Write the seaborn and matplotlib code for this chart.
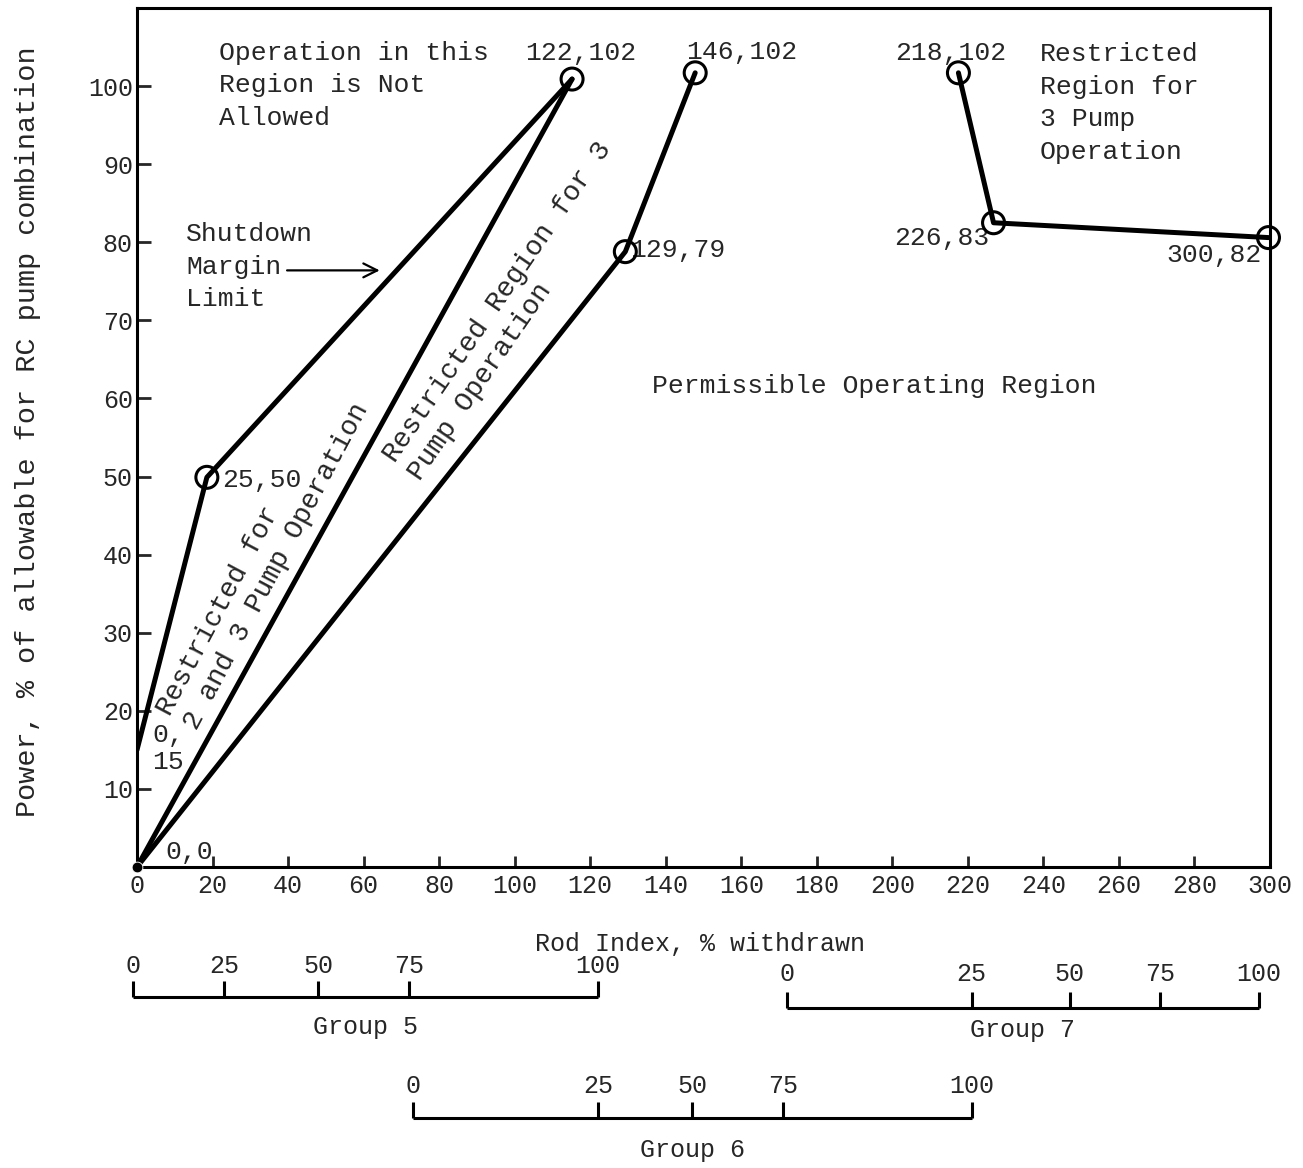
import pandas as pd
import matplotlib.pyplot as plt
import seaborn as sns

# data (rod index %, power %)
shutdown_rod = [0, 18.5, 115.2]
shutdown_power = [15, 49.9, 100.9]
restrict_rod = [0, 115.2]
restrict_power = [0, 100.9]
three_pump_rod = [0, 129.3, 147.8]
three_pump_power = [0, 78.8, 101.7]
right_rod = [217.5, 226.8, 299.6]
right_power = [101.7, 82.5, 80.6]

circle_rod = [18.5, 115.2, 129.3, 147.8, 217.5, 226.8, 299.6]
circle_power = [49.9, 100.9, 78.8, 101.7, 101.7, 82.5, 80.6]

x_ticks = list(range(0, 301, 20))
y_ticks = list(range(10, 101, 10))

# group scales under the axis (group % -> rod index)
group_labels = [0, 25, 50, 75, 100]
group5_rod = [-1, 23, 48, 72, 122]
group6_rod = [73, 122, 147, 171, 221]
group7_rod = [172, 221, 247, 271, 297]

sns.set_style('ticks')
plt.rcParams['font.family'] = ['Liberation Mono', 'DejaVu Sans Mono']

W, H = 1303, 1168
fig = plt.figure(figsize=(W / 100, H / 100), dpi=100)
L, R, T, B = 137, 1270, 8, 867
ax = fig.add_axes([L / W, 1 - B / H, (R - L) / W, (B - T) / H])

curves = pd.concat([
    pd.DataFrame({'rod': shutdown_rod, 'power': shutdown_power, 'curve': 'shutdown'}),
    pd.DataFrame({'rod': restrict_rod, 'power': restrict_power, 'curve': 'restrict'}),
    pd.DataFrame({'rod': three_pump_rod, 'power': three_pump_power, 'curve': 'three'}),
    pd.DataFrame({'rod': right_rod, 'power': right_power, 'curve': 'right'}),
])
sns.lineplot(data=curves, x='rod', y='power', units='curve', estimator=None,
             sort=False, color='black', linewidth=3.6, ax=ax)
sns.scatterplot(x=circle_rod, y=circle_power, s=250, marker='o',
                facecolors='none', edgecolor='black', linewidth=2.2, ax=ax,
                zorder=5, clip_on=False)
sns.scatterplot(x=[0], y=[0], s=60, color='black', ax=ax, zorder=5, clip_on=False)

ax.set_xlim(0, 300)
ax.set_ylim(0, 110)
ax.set_xticks(x_ticks)
ax.set_yticks(y_ticks)
ax.tick_params(axis='x', direction='in', length=8, width=2, labelsize=18, pad=5)
ax.tick_params(axis='y', direction='in', length=10, width=2, labelsize=18, pad=3)
for s in ax.spines.values():
    s.set_linewidth(2.2)
    s.set_color('black')

ax.set_xlabel('Rod Index, % withdrawn', fontsize=18)
ax.xaxis.set_label_coords(0.497, -0.076)
ax.set_ylabel('')
fig.text(28 / W, 1 - 432 / H, 'Power, % of allowable for RC pump combination',
         rotation=90, ha='center', va='center', fontsize=20.5)

fs = 19
ax.text(21.7, 105.8, 'Operation in this\nRegion is Not\nAllowed', fontsize=fs,
        va='top', ha='left', linespacing=1.45)
ax.text(239, 105.7, 'Restricted\nRegion for\n3 Pump\nOperation', fontsize=fs,
        va='top', ha='left', linespacing=1.47)
ax.text(13, 82.6, 'Shutdown\nMargin\nLimit', fontsize=fs, va='top', ha='left',
        linespacing=1.45)
ax.annotate('', xy=(65, 76.4), xytext=(39, 76.4),
            arrowprops=dict(arrowstyle='->', color='black', lw=1.6, mutation_scale=25))
ax.text(136.4, 61.6, 'Permissible Operating Region', fontsize=fs, va='center', ha='left')
ax.text(33.4, 39.4, 'Restricted for\n2 and 3 Pump Operation', fontsize=20,
        rotation=62, rotation_mode='anchor', ha='center', va='center',
        multialignment='left', linespacing=1.25)
ax.text(98.8, 71.2, 'Restricted Region for 3\nPump Operation', fontsize=20,
        rotation=55.5, rotation_mode='anchor', ha='center', va='center',
        multialignment='left', linespacing=1.25)

ax.text(117.5, 104.2, '122,102', fontsize=fs, ha='center', va='center')
ax.text(160, 104.4, '146,102', fontsize=fs, ha='center', va='center')
ax.text(215.5, 104.2, '218,102', fontsize=fs, ha='center', va='center')
ax.text(22.5, 49.6, '25,50', fontsize=fs, ha='left', va='center')
ax.text(4, 18.5, '0,\n15', fontsize=fs, ha='left', va='top', linespacing=1.2)
ax.text(7.4, 1.9, '0,0', fontsize=fs, ha='left', va='center')
ax.text(130.5, 79, '129,79', fontsize=fs, ha='left', va='center')
ax.text(225.8, 80.5, '226,83', fontsize=fs, ha='right', va='center')
ax.text(297.9, 78.4, '300,82', fontsize=fs, ha='right', va='center')

# group scales: overlay axes below the plot, y in pixel rows
axg = fig.add_axes([L / W, 0, (R - L) / W, 1 - B / H])
axg.set_xlim(0, 300)
axg.set_ylim(H, B)
axg.axis('off')
groups = [(group5_rod, 997, 966, 1027, 'Group 5'),
          (group6_rod, 1118, 1086, 1150, 'Group 6'),
          (group7_rod, 1008, 974, 1030, 'Group 7')]
for pos, yl, ylab, yname, name in groups:
    axg.plot([pos[0], pos[-1]], [yl, yl], color='black', lw=2.2,
             solid_capstyle='butt', clip_on=False)
    axg.vlines(pos, yl - 16, yl, color='black', lw=2.2, clip_on=False)
    for p, g in zip(pos, group_labels):
        axg.text(p, ylab, str(g), fontsize=18, ha='center', va='center')
    axg.text((pos[0] + pos[-1]) / 2, yname, name, fontsize=18, ha='center', va='center')

plt.savefig('out.png', dpi=100)
